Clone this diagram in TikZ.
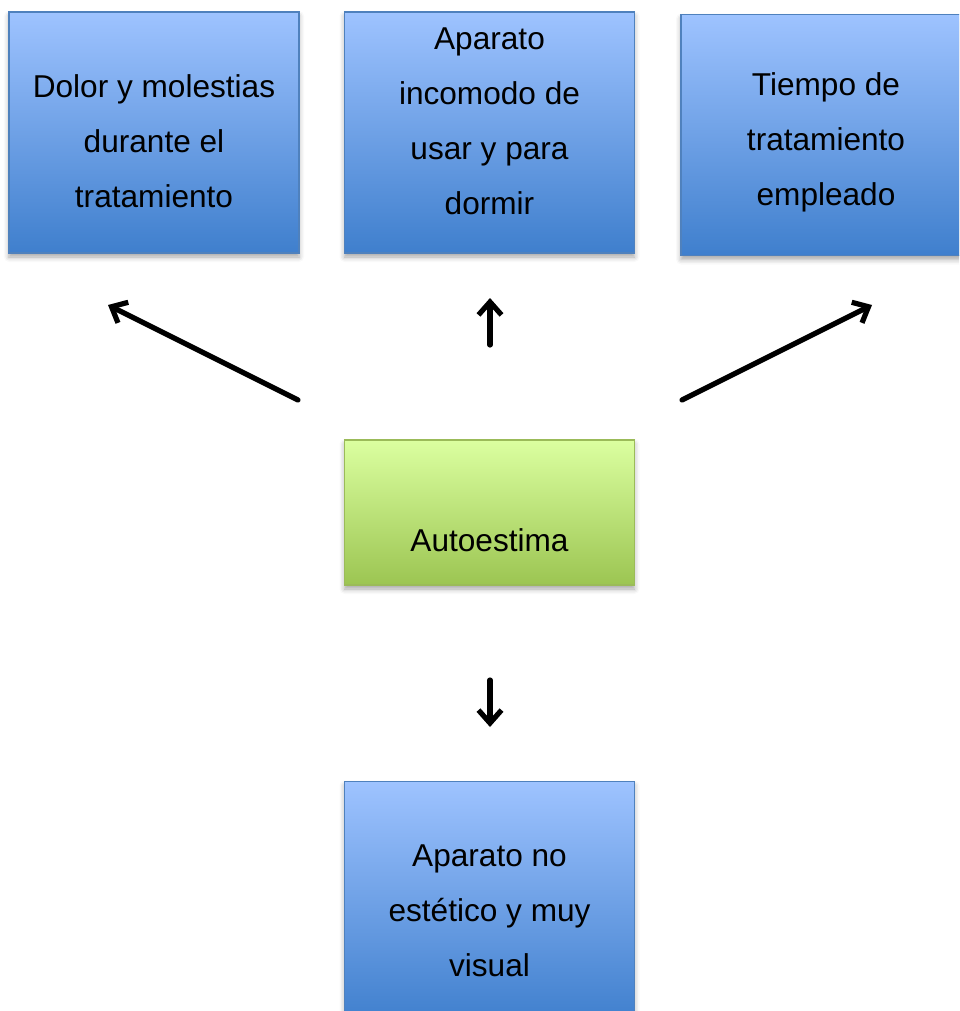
\documentclass[tikz,border=0pt]{standalone}
\usepackage{fontspec}
\setmainfont{Liberation Sans}
\usepackage{xcolor}
\usetikzlibrary{arrows.meta,shadows.blur}
\definecolor{bluetop}{HTML}{9EC3FF}
\definecolor{bluebot}{HTML}{3F7FCD}
\definecolor{blueline}{HTML}{4F81BD}
\definecolor{greentop}{HTML}{DBFFA0}
\definecolor{greenbot}{HTML}{9CC552}
\definecolor{greenline}{HTML}{9BBB59}
\begin{document}
\begin{tikzpicture}[x=0.5pt,y=-0.5pt,
  bluebox/.style={draw=blueline,line width=0.6pt,top color=bluetop,bottom color=bluebot,
    minimum width=145pt,minimum height=120.5pt,inner sep=0pt,
    blur shadow={shadow xshift=0pt,shadow yshift=-2pt,shadow blur radius=2.5pt,shadow opacity=35}},
  greenbox/.style={bluebox,draw=greenline,top color=greentop,bottom color=greenbot,minimum height=72.5pt},
  boxtext/.style={align=center,font=\fontsize{15.8pt}{27.5pt}\selectfont},
  arrow/.style={line width=2.6pt,line cap=round,line join=round,-{Straight Barb[length=6.5pt,width=11.5pt]}}]
\useasboundingbox (0,0) rectangle (959,1011);
\clip (0,0) rectangle (959,1011);

% Boxes
\node[bluebox] (dolor) at (154,132.5) {};
\node[bluebox] (incomodo) at (489.5,132.5) {};
\node[bluebox] (tiempo) at (826,135) {};
\node[greenbox] (autoestima) at (489.5,512.5) {};
\node[bluebox] (visual) at (489.5,902) {};

% Texts
\node[boxtext] (dolortxt) at (154,141) {Dolor y molestias\\durante el\\tratamiento};
\node[boxtext] (incomodotxt) at (489.5,121.5) {Aparato\\incomodo de\\usar y para\\dormir};
\node[boxtext] (tiempotxt) at (826,142) {Tiempo de\\tratamiento\\empleado};
\node[boxtext] (autoestimatxt) at (489.5,540) {Autoestima};
\node[boxtext] (visualtxt) at (489.5,911) {Aparato no\\est\'etico y muy\\visual};

% Arrows
\coordinate (l0) at (298,400);  \coordinate (l1) at (108,305);
\coordinate (m0) at (490,345);  \coordinate (m1) at (490,298);
\coordinate (r0) at (682,400);  \coordinate (r1) at (872,305);
\coordinate (d0) at (490,680);  \coordinate (d1) at (490,727);
\foreach \a/\b in {l0/l1,m0/m1,r0/r1,d0/d1}
  \draw[arrow] (\a) -- (\b);
\end{tikzpicture}
\end{document}
